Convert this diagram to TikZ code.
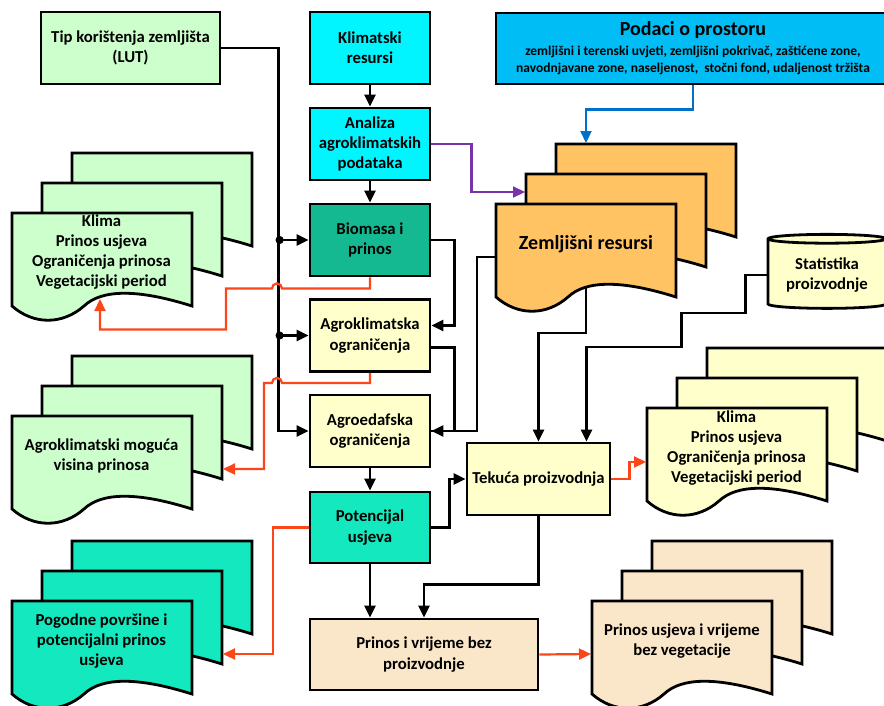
\documentclass[tikz,border=0pt]{standalone}
\usepackage{fontspec}
\setmainfont{Carlito}
\usetikzlibrary{positioning,arrows.meta,shapes.geometric,calc}

\definecolor{lutgreen}{RGB}{204,255,204}
\definecolor{klimcyan}{RGB}{0,245,255}
\definecolor{biomteal}{RGB}{20,185,145}
\definecolor{potaqua}{RGB}{20,232,190}
\definecolor{limyellow}{RGB}{255,255,204}
\definecolor{prinostan}{RGB}{250,230,200}
\definecolor{zemorange}{RGB}{255,195,100}
\definecolor{skyblue}{RGB}{0,190,245}
\definecolor{redline}{RGB}{250,70,25}
\definecolor{purpleline}{RGB}{120,50,170}
\definecolor{blueline}{RGB}{0,112,200}

% one sheet of a multi-document shape, top left corner at (#1,#2)
\newcommand{\docsheet}[3]{%
  \draw[sheet, fill=#3] ({#1},{#2}) -- ({#1+180},{#2}) -- ({#1+180},{#2+93})
    .. controls ({#1+126},{#2+76}) and ({#1+90},{#2+76}) .. ({#1+72},{#2+93})
    .. controls ({#1+50.4},{#2+112}) and ({#1+21.6},{#2+112}) .. ({#1},{#2+93})
    -- cycle;}
% three stacked sheets, front sheet at (#1,#2)
\newcommand{\multidoc}[3]{%
  \docsheet{#1+60}{#2-60}{#3}%
  \docsheet{#1+30}{#2-30}{#3}%
  \docsheet{#1}{#2}{#3}}

\begin{document}
\begin{tikzpicture}[x=1pt, y=-1pt,
  box/.style={draw, line width=2.8pt, minimum width=120pt, minimum height=72pt,
              align=center, font=\fontsize{16.7}{20.3}\selectfont\bfseries},
  sheet/.style={draw, line width=2.8pt},
  doctext/.style={align=center, font=\fontsize{16.7}{20.3}\selectfont\bfseries},
  arr/.style={line width=2.4pt, -{Triangle[length=12pt,width=11pt]}},
  dotarr/.style={line width=2.4pt, {Circle[length=8pt]}-{Triangle[length=12pt,width=11pt]}},
  line/.style={line width=2.4pt},
  redarr/.style={draw=redline, line width=2.2pt, -{Triangle[length=12pt,width=11pt,fill=redline]}}
]
\path[use as bounding box, fill=white] (0,0) rectangle (884,705);

% Documents
\multidoc{12}{213}{lutgreen}
\multidoc{12}{416}{lutgreen}
\multidoc{12}{601}{potaqua}
\multidoc{496}{204}{zemorange}
\multidoc{647}{408}{limyellow}
\multidoc{592}{601}{prinostan}

\node[doctext] (klima1) at (101.5,252) {Klima\\Prinos usjeva\\Ograničenja prinosa\\Vegetacijski period};
\node[doctext] (agrvis) at (101.5,456) {Agroklimatski moguća\\visina prinosa};
\node[doctext] (pogodne) at (101.5,641) {Pogodne površine i\\potencijalni prinos\\usjeva};
\node[doctext, font=\fontsize{20}{24}\selectfont\bfseries] (zem) at (586,244) {Zemljišni resursi};
\node[doctext] (klima2) at (736.5,448) {Klima\\Prinos usjeva\\Ograničenja prinosa\\Vegetacijski period};
\node[doctext] (prinveg) at (682,641) {Prinos usjeva i vrijeme\\bez vegetacije};

\coordinate (klima1in) at (100,299);
\coordinate (agrin) at (223,469);
\coordinate (pogin) at (223,654);
\coordinate (zemleft) at (495,257);
\coordinate (zemin) at (525,192);
\coordinate (zemtop) at (586,143);
\coordinate (zembot) at (586,287);
\coordinate (klima2in) at (646,462);
\coordinate (prinin) at (591,654);

% Boxes
\node[box, fill=lutgreen, minimum width=179pt] (lut) at (130.5,48) {Tip korištenja zemljišta\\(LUT)};
\node[box, fill=klimcyan] (klim) at (370,48) {Klimatski\\resursi};
\node[box, fill=klimcyan] (anal) at (370,144) {Analiza\\agroklimatskih\\podataka};
\node[box, fill=biomteal] (biom) at (370,240) {Biomasa i\\prinos};
\node[box, fill=limyellow] (agrokl) at (370,335.5) {Agroklimatska\\ograničenja};
\node[box, fill=limyellow] (agroed) at (370,431) {Agroedafska\\ograničenja};
\node[box, fill=potaqua, minimum height=71pt] (poten) at (370,527.5) {Potencijal\\usjeva};
\node[box, fill=prinostan, minimum width=228pt, minimum height=71pt] (prinos) at (424,654.5) {Prinos i vrijeme bez\\proizvodnje};
\node[box, fill=limyellow, minimum width=143pt, inner sep=1pt] (tekuca) at (538.5,479) {Tekuća proizvodnja};
\node[box, fill=skyblue, minimum width=394pt, minimum height=71pt,
      font=\fontsize{13.5}{17}\selectfont\bfseries] (podaci) at (693,48.5)
  {{\fontsize{20}{20}\selectfont Podaci o prostoru}\\[3pt]
   zemljišni i terenski uvjeti, zemljišni pokrivač, zaštićene zone,\\
   navodnjavane zone, naseljenost,~ stočni fond, udaljenost tržišta};
\node[box, fill=limyellow, cylinder, shape border rotate=90, aspect=0.1,
      minimum width=118pt, minimum height=74pt] (stat) at (827,275) {Statistika\\proizvodnje};

% Black flow
\draw[arr] (klim) -- (anal);
\draw[arr] (anal) -- (biom);
\draw[arr] (lut.east) -- ++(57,0) |- (agroed.west);
\draw[dotarr] ([xshift=-33pt]biom.west) -- (biom.west);
\draw[dotarr] ([xshift=-33pt]agrokl.west) -- (agrokl.west);
\draw[arr] (biom.east) -- ++(23,0) |- ([yshift=10pt]agrokl.east);
\draw[line] ([yshift=-12pt]agrokl.east) -- ++(23,0) |- (agroed.east);
\draw[arr] (zemleft) -- ++(-18,0) |- (agroed.east);
\draw[arr] (zembot) -- ++(0,46) -| (tekuca.north);
\draw[arr] (stat.west) -- ++(-21,0) -- ++(0,38) -- ++(-64,0) -- ++(0,34) -| ([xshift=48pt]tekuca.north);
\draw[arr] (agroed) -- (poten);
\draw[arr] (poten.east) -- ++(18,0) |- (tekuca.west);
\draw[arr] (poten.south) -- (poten.south |- prinos.north);
\draw[arr] (tekuca.south) -- ++(0,68) -| (prinos.north);

% Coloured flow
\draw[draw=purpleline, line width=2.2pt, -{Triangle[length=12pt,width=11pt,fill=purpleline]}]
  (anal.east) -- ++(40,0) |- (zemin);
\draw[draw=blueline, line width=2.2pt, -{Triangle[length=12pt,width=11pt,fill=blueline]}]
  (podaci.south) -- ++(0,24) -| (zemtop);
\draw[redarr] (biom.south) -- ++(0,11) -- ++(-88,0) arc[start angle=0, end angle=-180, radius=5]
  -- ++(-46,0) -- ++(0,41) -| (klima1in);
\draw[redarr] (agrokl.south) -- ++(0,10) -- ++(-88,0) arc[start angle=0, end angle=-180, radius=5]
  -- ++(-8,0) |- (agrin);
\draw[redarr] (poten.west) -- ++(-36,0) |- (pogin);
\draw[redarr] (tekuca.east) -- ++(18,0) |- (klima2in);
\draw[redarr] (prinos.east) -- (prinin);

\end{tikzpicture}
\end{document}
